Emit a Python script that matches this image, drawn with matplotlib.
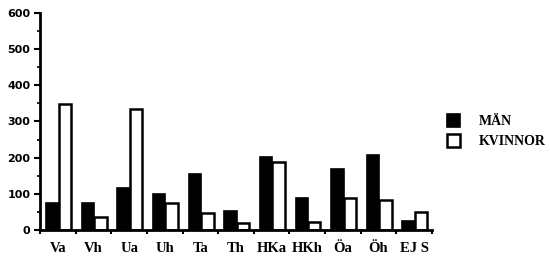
import matplotlib
matplotlib.use("Agg")
import matplotlib.pyplot as plt
from matplotlib.patches import Patch
from matplotlib.ticker import MultipleLocator
import numpy as np

categories = ["Va", "Vh", "Ua", "Uh", "Ta", "Th", "HKa", "HKh", "Öa", "Öh", "EJ S"]
man = [74, 75, 115, 99, 155, 53, 203, 88, 168, 207, 24]
kvinnor = [348, 37, 335, 74, 48, 18, 187, 23, 88, 83, 49]
series_labels = ["MÄN", "KVINNOR"]

fig = plt.figure(figsize=(5.5, 2.6), dpi=100)
ax = fig.add_axes([40/550, 1-230/260, 392/550, 217/260])

x = np.arange(len(categories))
w = 0.35
ax.bar(x - w/2 + 0.02, man, width=w, color="black", edgecolor="black", linewidth=1.2, label=series_labels[0])
ax.bar(x + w/2 + 0.02, kvinnor, width=w, color="white", edgecolor="black", linewidth=1.8, label=series_labels[1])

ax.set_xlim(-0.5, len(categories) - 0.5)
ax.set_ylim(0, 600)
for s in ["top", "right"]:
    ax.spines[s].set_visible(False)
for s in ["left", "bottom"]:
    ax.spines[s].set_linewidth(2)

ax.yaxis.set_major_locator(MultipleLocator(100))
ax.yaxis.set_minor_locator(MultipleLocator(50))
ax.tick_params(axis="y", which="major", length=4, width=1.5, labelsize=8, pad=3)
ax.tick_params(axis="y", which="minor", length=2.5, width=1.2)
for lab in ax.get_yticklabels():
    lab.set_fontweight("bold")
    lab.set_family("DejaVu Sans")

ax.set_xticks(np.arange(-0.5, len(categories), 1.0), minor=False)
ax.set_xticklabels([""] * (len(categories) + 1))
ax.tick_params(axis="x", which="major", length=3, width=1.5, direction="out")
ax.set_xticks(x, minor=True)
ax.set_xticklabels(categories, minor=True, fontfamily="Liberation Serif", fontweight="bold", fontsize=10.5)
ax.tick_params(axis="x", which="minor", length=0, pad=9)

handles = [Patch(facecolor="black", edgecolor="black", linewidth=1.2),
           Patch(facecolor="white", edgecolor="black", linewidth=1.8)]
fig.legend(handles, series_labels, loc="center left", bbox_to_anchor=(434/550, 1-131/260),
           frameon=False, prop={"family": "Liberation Serif", "weight": "bold", "size": 10},
           handlelength=1.0, handleheight=1.1, handletextpad=1.3, labelspacing=0.4)

fig.savefig("out.png", dpi=100)
